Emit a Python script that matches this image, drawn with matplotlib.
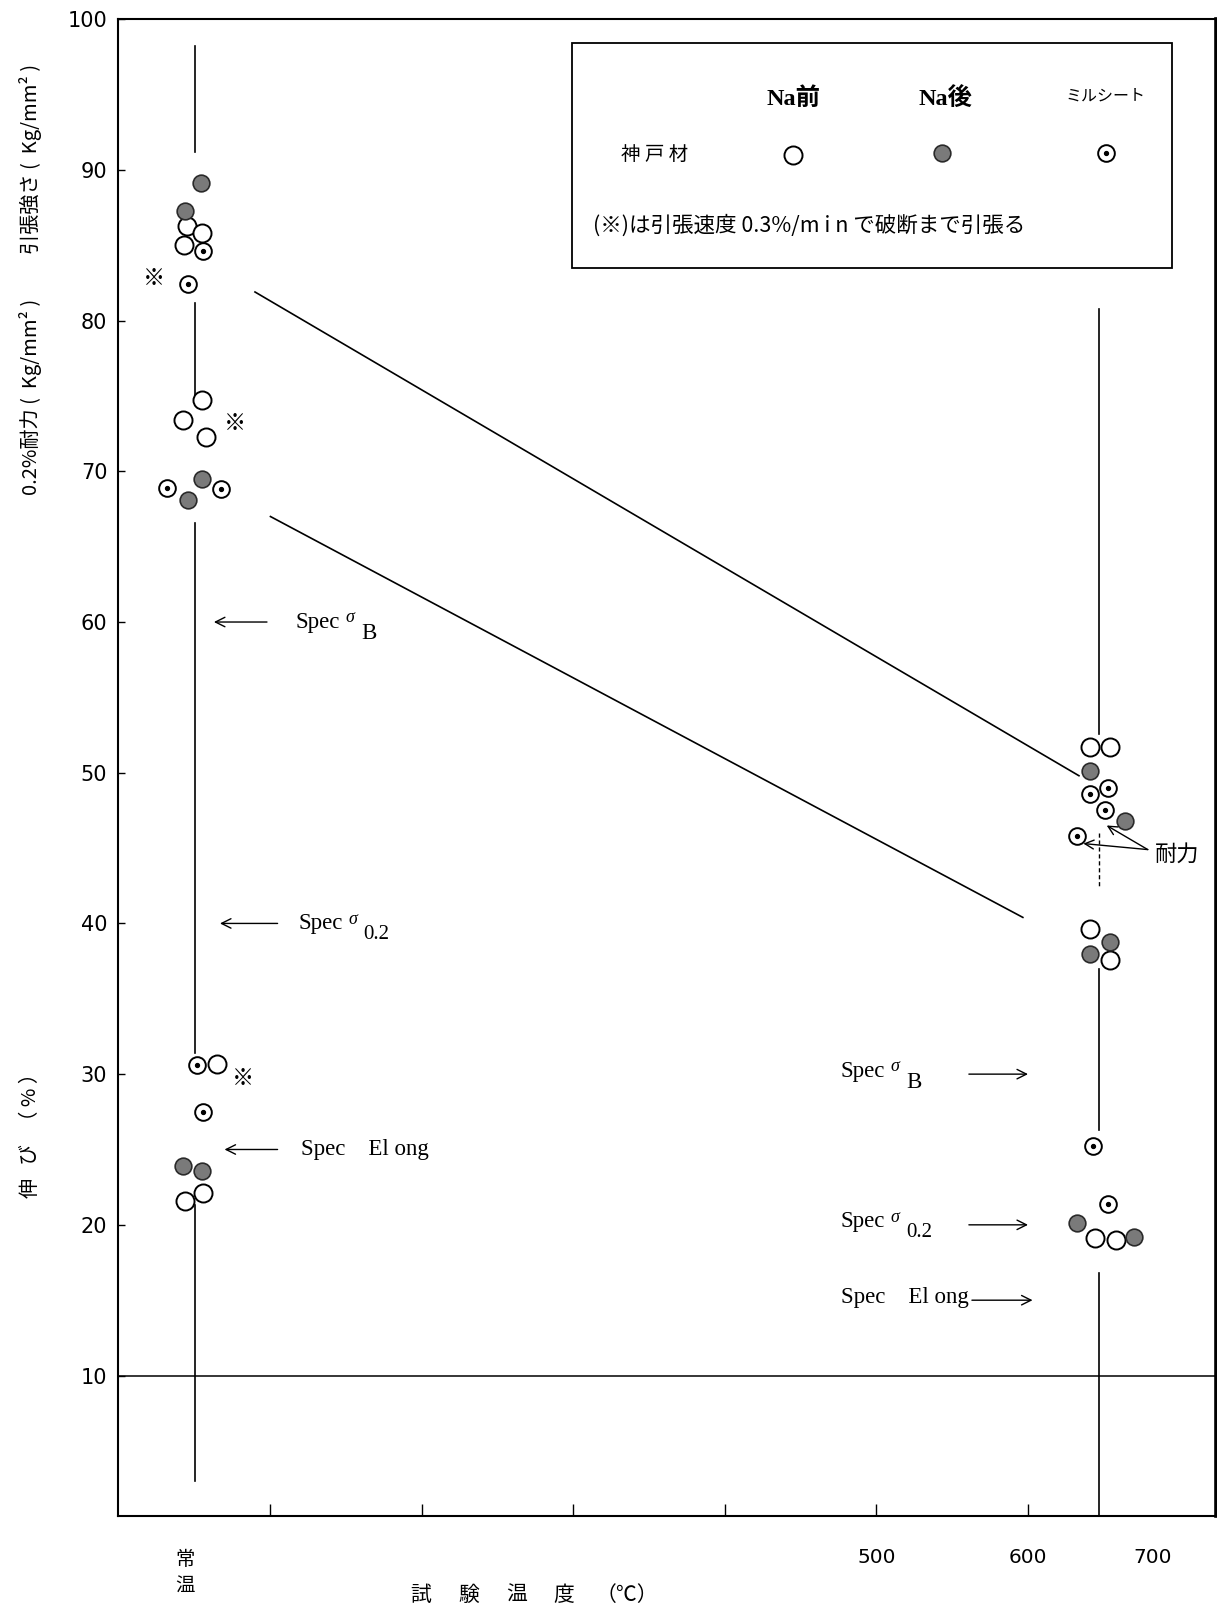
import matplotlib
matplotlib.use("Agg")
import matplotlib.pyplot as plt
from matplotlib.patches import Rectangle

CJK = ['Noto Sans CJK JP', 'DejaVu Sans']
SERIF = ['Liberation Serif', 'DejaVu Serif']

# ---- data -------------------------------------------------------------
# Na前 (before sodium exposure): open circles
before_x = [45, 55, 43.5, 55.3, 42.8, 57.6, 64.8, 43.9, 56,
            641, 654, 641, 654, 644, 658]
before_y = [86.3, 85.8, 85.0, 74.7, 73.4, 72.3, 30.7, 21.6, 22.1,
            51.7, 51.7, 39.6, 37.6, 19.1, 19.0]

# Na後 (after sodium exposure): grey filled circles
after_x = [54.3, 43.9, 55, 46.1, 42.8, 55,
           641, 664, 654, 641, 632, 670]
after_y = [89.1, 87.3, 69.5, 68.1, 23.9, 23.6,
           50.1, 46.8, 38.8, 38.0, 20.1, 19.2]

# ミルシート (mill sheet values): dotted circles
mill_x = [55.6, 45.7, 31.9, 67.5, 51.6, 56,
          641, 653, 650.8, 632, 643, 652.6]
mill_y = [84.6, 82.4, 68.9, 68.8, 30.6, 27.5,
          48.6, 49.0, 47.5, 45.8, 25.2, 21.4]

# ※ : pulled to fracture at 0.3%/min
slow_x = [23.5, 76.9, 82.4]
slow_y = [82.8, 73.2, 29.7]

# scatter bands drawn as vertical lines (temperature, y_from, y_to)
bands_rt = [(50.5, 98.2, 91.2), (50.5, 81.2, 75.0), (50.5, 66.6, 31.4), (50.5, 21.3, 3.0)]
bands_hot = [(647, 80.8, 52.6), (647, 37.0, 26.3), (647, 16.8, 0.68)]
bands_hot_dashed = [(647, 46.0, 42.4)]

# trend lines (x0, y0, x1, y1)
trend_lines = [(90.1, 81.9, 633.6, 49.8), (100.3, 67.0, 596.6, 40.4)]

# specification levels: (subscript, arrow tail x, arrow head x, y)
spec_rt = [("B", 98, 63, 60), ("0.2", 105, 67, 40), (None, 105, 70, 25)]
spec_hot = [("B", 561, 600, 30), ("0.2", 561, 600, 20), (None, 563, 603, 15)]

y_ticks = [10, 20, 30, 40, 50, 60, 70, 80, 90, 100]
x_ticks = [100, 200, 300, 400, 500, 600]
x_tick_labels = ['', '', '', '', '500', '600']

# ---- figure -------------------------------------------------------------
W, H = 1217, 1612
Y_BOTTOM = 0.68
fig = plt.figure(figsize=(W / 100, H / 100), dpi=100)
ax = fig.add_axes([118.4 / W, (H - 1516) / H, (1216 - 118.4) / W, (1516 - 19.2) / H])
ax.set_xlim(0, 724)
ax.set_ylim(Y_BOTTOM, 100)

for s in ['left', 'bottom', 'top']:
    ax.spines[s].set_linewidth(1.5)
ax.spines['right'].set_linewidth(2.6)

ax.set_yticks(y_ticks)
ax.set_yticklabels([str(v) for v in y_ticks], family='DejaVu Sans', fontsize=15)
ax.tick_params(axis='y', direction='in', length=5, width=1, pad=8)
ax.set_xticks(x_ticks)
ax.set_xticklabels(x_tick_labels, family='DejaVu Sans', fontsize=14.5)
ax.tick_params(axis='x', direction='in', length=9, width=1, pad=23)
ax.text(682.5, -2.05, '700', ha='center', va='center', family='DejaVu Sans', fontsize=14.5,
        clip_on=False)

# horizontal reference at 10
ax.axhline(10, color='black', lw=1.1)

# vertical scatter bands
for x, y0, y1 in bands_rt + bands_hot:
    ax.plot([x, x], [y0, y1], color='black', lw=1.2)
for x, y0, y1 in bands_hot_dashed:
    ax.plot([x, x], [y0, y1], color='black', lw=1.0, ls=(0, (3, 2)))

for x0, y0, x1, y1 in trend_lines:
    ax.plot([x0, x1], [y0, y1], color='black', lw=1.2)

# markers
ms_open, ms_fill, ms_mill = 13, 12, 12
fill_c = '#7a7a7a'


def draw_open(x, y):
    ax.plot(x, y, 'o', ms=ms_open, mfc='white', mec='black', mew=1.4, ls='none', zorder=3)


def draw_filled(x, y):
    ax.plot(x, y, 'o', ms=ms_fill, mfc=fill_c, mec='#2a2a2a', mew=1.2, ls='none', zorder=3)


def draw_mill(x, y):
    ax.plot(x, y, 'o', ms=ms_mill, mfc='white', mec='black', mew=1.4, ls='none', zorder=3)
    ax.plot(x, y, 'o', ms=2.8, mfc='black', mec='black', ls='none', zorder=4)


draw_open(before_x, before_y)
draw_filled(after_x, after_y)
draw_mill(mill_x, mill_y)

for x, y in zip(slow_x, slow_y):
    ax.text(x, y, '※', ha='center', va='center', family=CJK, fontsize=16)


# spec annotations
def spec_label(x, y, sub):
    if sub is None:
        ax.text(x, y, 'Spec    El ong', ha='left', va='center', family=SERIF, fontsize=16.5)
        return
    ax.text(x, y, 'Spec', ha='left', va='center', family=SERIF, fontsize=16.5)
    ax.annotate('σ', xy=(x, y), xytext=(36, 3), textcoords='offset points',
                ha='left', va='center', family=SERIF, fontsize=13, style='italic')
    ax.annotate(sub, xy=(x, y), xytext=(47, -8), textcoords='offset points',
                ha='left', va='center', family=SERIF, fontsize=16.5 if sub == 'B' else 15)


def spec_arrow(xt, xh, y):
    ax.annotate('', xy=(xh, y), xytext=(xt, y),
                arrowprops=dict(arrowstyle='->', lw=1.0, color='black', mutation_scale=17,
                                shrinkA=0, shrinkB=0))


for (sub, xt, xh, y), tx in zip(spec_rt, [117, 118.5, 120.5]):
    spec_arrow(xt, xh, y)
    spec_label(tx, y, sub)
for sub, xt, xh, y in spec_hot:
    spec_arrow(xt, xh, y)
    spec_label(476.6, y + 0.2, sub)

# 耐力 pointer
for tip in [(651.9, 46.5), (636.5, 45.3)]:
    ax.annotate('', xy=tip, xytext=(679, 44.9),
                arrowprops=dict(arrowstyle='->', lw=1.0, color='black', mutation_scale=16,
                                shrinkA=0, shrinkB=0))
ax.text(684, 44.6, '耐力', ha='left', va='center', family=CJK, fontsize=16)

# legend box
ax.add_patch(Rectangle((299, 83.5), 396, 14.9, fill=False, lw=1.3, ec='black', zorder=2))
ax.text(445.3, 94.7, 'Na前', ha='center', va='center', family=['Liberation Serif', 'Noto Sans CJK JP'],
        fontsize=17.5, fontweight='bold')
ax.text(545.7, 94.7, 'Na後', ha='center', va='center', family=['Liberation Serif', 'Noto Sans CJK JP'],
        fontsize=17.5, fontweight='bold')
ax.text(650.8, 94.9, 'ミルシート', ha='center', va='center', family=CJK, fontsize=11.5)
ax.text(353.8, 91.0, '神 戸 材', ha='center', va='center', family=CJK, fontsize=14)
draw_open([445.3], [91.0])
draw_filled([543], [91.1])
draw_mill([651.5], [91.1])
ax.text(313, 86.3, '(※)は引張速度 0.3%/m i n で破断まで引張る', ha='left', va='center',
        family=CJK, fontsize=15.5)

# axis titles
fig.text(31 / W, 1 - 159 / H, '引張強さ (  Kg/mm² )', rotation=90, ha='center', va='center',
         family=CJK, fontsize=14.5)
fig.text(31 / W, 1 - 397 / H, '0.2%耐力 (  Kg/mm² )', rotation=90, ha='center', va='center',
         family=CJK, fontsize=14.5)
fig.text(31 / W, 1 - 1131 / H, '伸   び   （ % ）', rotation=90, ha='center', va='center',
         family=CJK, fontsize=14.5)
ax.text(44, -2.2, '常', ha='center', va='center', family=CJK, fontsize=14, clip_on=False)
ax.text(44, -3.95, '温', ha='center', va='center', family=CJK, fontsize=14, clip_on=False)
for ch, px in zip(['試', '験', '温', '度', '（℃）'], [421, 469, 517, 564, 627]):
    fig.text(px / W, 1 - 1595 / H, ch, ha='center', va='center', family=CJK, fontsize=15)

fig.savefig('out.png', dpi=100)
